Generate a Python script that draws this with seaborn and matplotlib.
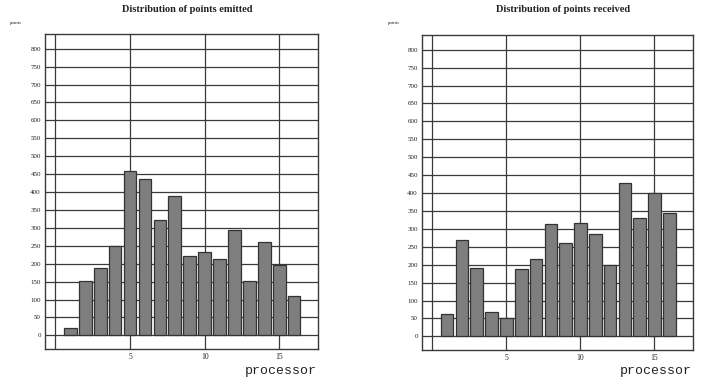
import numpy as np
import pandas as pd
import matplotlib
matplotlib.use("Agg")
import matplotlib.pyplot as plt
import seaborn as sns

processors = list(range(1, 17))
emitted = [20, 151, 187, 250, 460, 435, 323, 390, 222, 234, 214, 295, 153, 261, 196, 111]
received = [62, 270, 191, 67, 51, 187, 215, 313, 260, 315, 287, 199, 427, 330, 399, 345]
titles = ["Distribution of points emitted", "Distribution of points received"]
y_ticks = list(range(0, 801, 50))
x_ticks = [0, 5, 10, 15]
x_tick_labels = ["", "5", "10", "15"]

sns.set_theme(style="white")
plt.rcParams["font.family"] = ["Liberation Serif", "DejaVu Serif"]

fig = plt.figure(figsize=(7.03, 3.84), dpi=100)
W, H = 703, 384
boxes = [(45, 318, 34, 349), (422, 693, 35, 350)]
title_x = [187, 563]
points_x = [10, 388]
grid_col = "#3a3a3a"

for i, (vals, (l, r, t, b)) in enumerate(zip([emitted, received], boxes)):
    ax = fig.add_axes([l / W, 1 - b / H, (r - l) / W, (b - t) / H])
    df = pd.DataFrame({"processor": processors, "points": vals})
    sns.barplot(data=df, x="processor", y="points", native_scale=True, width=0.85,
                color="#7e7e7e", saturation=1, edgecolor="#333333", linewidth=0.9,
                ax=ax, zorder=3)
    ax.set_xlim(-0.7, 17.6)
    ax.set_ylim(-38, 841)
    ax.set_yticks(y_ticks)
    ax.set_yticklabels([str(v) for v in y_ticks], fontsize=5, color="#222")
    ax.set_xticks(x_ticks)
    ax.set_xticklabels(x_tick_labels, fontsize=5.5, color="#222")
    ax.tick_params(axis="both", length=0, pad=3)
    ax.grid(True, color=grid_col, linewidth=0.9, zorder=0)
    ax.set_axisbelow(True)
    for s in ax.spines.values():
        s.set_color(grid_col)
        s.set_linewidth(1.0)
    ax.set_xlabel("")
    ax.set_ylabel("")
    fig.text(title_x[i] / W, 1 - 9 / H, titles[i], ha="center", va="center",
             fontsize=7.5, fontweight="bold", color="#222")
    fig.text(points_x[i] / W, 1 - 23 / H, "points", ha="left", va="center",
             fontsize=3.5, color="#222")
    fig.text((r - 1) / W, 1 - 371 / H, "processor", ha="right", va="center",
             fontsize=9.5, family=["Liberation Mono", "DejaVu Sans Mono"], color="#222")

fig.savefig("out.png", dpi=100)
